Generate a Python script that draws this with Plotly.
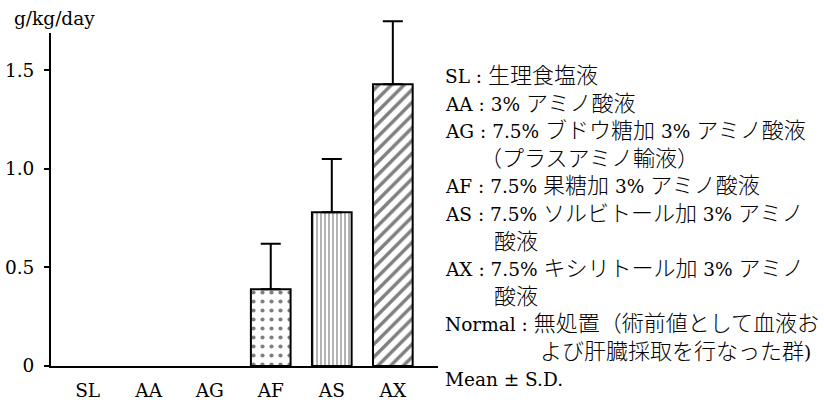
import plotly.graph_objects as go

# ---- data ----
categories = ["SL", "AA", "AG", "AF", "AS", "AX"]
means = [0, 0, 0, 0.39, 0.78, 1.43]
sds = [0, 0, 0, 0.23, 0.27, 0.32]
y_tickvals = [0, 0.5, 1.0, 1.5]
y_ticktext = ["0", "0.5", "1.0", "1.5"]
unit_label = "g/kg/day"
legend_lines = [
    "SL : 生理食塩液",
    "AA : 3% アミノ酸液",
    "AG : 7.5% ブドウ糖加 3% アミノ酸液",
    "（プラスアミノ輸液）",
    "AF : 7.5% 果糖加 3% アミノ酸液",
    "AS : 7.5% ソルビトール加 3% アミノ",
    "酸液",
    "AX : 7.5% キシリトール加 3% アミノ",
    "酸液",
    "Normal : 無処置（術前値として血液お",
    "よび肝臓採取を行なった群)",
    "Mean ± S.D.",
]

# ---- styling ----
FONT = "DejaVu Serif, Noto Sans CJK JP, serif"
FS = 18.5
CJK_STYLE = "font-size:22px;font-weight:300"
patterns = ["", "", "", ".", "|", "/"]
pat_size = [8, 8, 8, 9, 4, 9]
pat_solid = [0.2, 0.2, 0.2, 0.17, 0.3, 0.38]
outline_w = [0 if m == 0 else 2 for m in means]

# error bars only where a bar is drawn
err_x = [c for c, m in zip(categories, means) if m > 0]
err_y = [m for m in means if m > 0]
err_sd = [s for m, s in zip(means, sds) if m > 0]

W, H = 824, 403
L, R, T, B = 51, 386, 18, 37
pw, ph = W - L - R, H - T - B
Y_MAX = 1.766      # top of plotting area (room for the tallest error bar)
AXIS_TOP_PX = 33   # the drawn y axis stops here


def px_x(x):
    return (x - L) / pw


def px_y(y):
    return (H - B - y) / ph


def is_cjk(ch):
    return ord(ch) >= 0x3000


def wrap_cjk(s):
    out, run = [], ""
    for ch in s:
        if is_cjk(ch):
            run += ch
        else:
            if run:
                out.append('<span style="%s">%s</span>' % (CJK_STYLE, run))
                run = ""
            out.append(ch)
    if run:
        out.append('<span style="%s">%s</span>' % (CJK_STYLE, run))
    return "".join(out)


fig = go.Figure()
fig.add_trace(go.Bar(
    x=categories, y=means, width=0.65,
    marker=dict(
        color="white",
        line=dict(color="black", width=outline_w),
        pattern=dict(shape=patterns, fgcolor="black", bgcolor="white",
                     size=pat_size, solidity=pat_solid, fillmode="overlay"),
    ),
    showlegend=False, hoverinfo="skip",
))
fig.add_trace(go.Scatter(
    x=err_x, y=err_y, mode="markers",
    marker=dict(size=1, color="rgba(0,0,0,0)"),
    error_y=dict(type="data", array=err_sd, arrayminus=[0] * len(err_sd),
                 symmetric=False, color="black", thickness=2, width=10),
    showlegend=False, hoverinfo="skip",
))

annotations = [dict(
    text=unit_label, xref="paper", yref="paper", x=px_x(12), y=px_y(18),
    xanchor="left", yanchor="middle", showarrow=False,
    font=dict(family=FONT, size=FS, color="black"),
)]

indent_x = [443, 443, 443, 478, 443, 443, 492, 443, 492, 443, 538, 443]
y0, pitch = 75.5, 27.6
for i, (txt, xx) in enumerate(zip(legend_lines, indent_x)):
    annotations.append(dict(
        text=wrap_cjk(txt), xref="paper", yref="paper", x=px_x(xx), y=px_y(y0 + i * pitch),
        xanchor="left", yanchor="middle", showarrow=False,
        font=dict(family=FONT, size=FS, color="black"),
    ))

fig.update_layout(
    width=W, height=H,
    margin=dict(l=L, r=R, t=T, b=B, pad=0, autoexpand=False),
    paper_bgcolor="white", plot_bgcolor="white",
    font=dict(family=FONT, size=FS, color="black"),
    xaxis=dict(
        range=[-0.6, 5.74], showline=True, linecolor="black", linewidth=2,
        ticks="", showgrid=False, zeroline=False, automargin=False,
        tickfont=dict(family=FONT, size=FS, color="black"),
        ticklabelstandoff=7, layer="above traces",
    ),
    yaxis=dict(
        range=[0, Y_MAX], showline=False,
        ticks="outside", ticklen=6, tickwidth=2, tickcolor="black",
        tickvals=y_tickvals, ticktext=y_ticktext,
        showgrid=False, zeroline=False, automargin=False,
        tickfont=dict(family=FONT, size=FS, color="black"),
        ticklabelstandoff=6,
    ),
    shapes=[dict(
        type="line", xref="paper", yref="paper",
        x0=px_x(50), x1=px_x(50), y0=px_y(368), y1=px_y(AXIS_TOP_PX),
        line=dict(color="black", width=2),
    )],
    annotations=annotations,
)

fig.write_html(
    "out.html",
    config={"displayModeBar": False},
    post_script="document.body.style.margin='0';document.body.style.overflow='hidden';",
)
